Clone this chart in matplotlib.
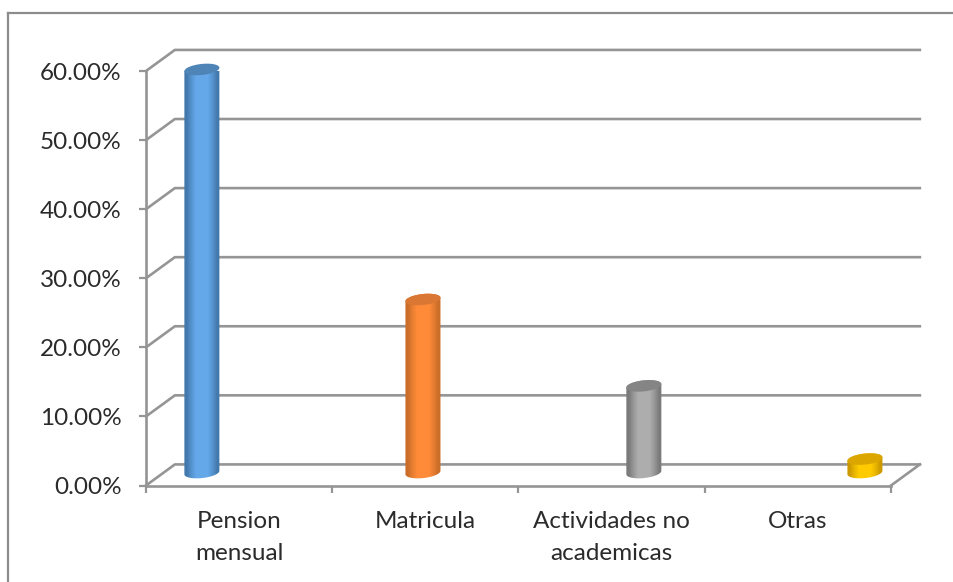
import numpy as np
import matplotlib
matplotlib.use("Agg")
import matplotlib.pyplot as plt
from matplotlib.colors import LinearSegmentedColormap
from matplotlib.lines import Line2D
from matplotlib.patches import Polygon

plt.rcParams['font.family'] = ['Lato', 'DejaVu Sans']

categorias = ['Pension\nmensual', 'Matricula', 'Actividades no\nacademicas', 'Otras']
valores = [58.7, 25.4, 12.9, 2.3]
yticks = [0, 10, 20, 30, 40, 50, 60]

# posiciones de las barras (no coinciden con las etiquetas en el original)
bar_x = [0.30, 1.487, 2.673, 3.86]
lados = ['#4279ac', '#c96d28', '#7a7a7a', '#cc9a00']
centros = ['#64a8ea', '#ff8b38', '#adadad', '#ffcb00']
tapas = ['#4f84b6', '#d97733', '#858585', '#dba600']

GRIS = '#959595'
TEXTO = '#2b2b2b'
W, H = 954, 582
dx_fondo = 0.155   # profundidad 3D en unidades de datos
dy_fondo = 3.05
r_x = 0.094        # radio del cilindro
r_y = 0.80
tilt = 0.25

fig = plt.figure(figsize=(W/100, H/100), dpi=100)
ax = fig.add_axes([146/W, (H-485.5)/H, 745/W, 414.5/H])
ax.set_xlim(0, 4)
ax.set_ylim(0, 60)

# marco exterior
fig.add_artist(Line2D([8/W, 1], [1-13/H, 1-13/H], color='#8c8c8c', lw=1.6))
fig.add_artist(Line2D([8/W, 8/W], [0, 1-13/H], color='#8c8c8c', lw=1.6))

# pared del fondo y suelo
for y in yticks:
    ax.plot([0, dx_fondo, 4+dx_fondo], [y, y+dy_fondo, y+dy_fondo],
            color=GRIS, lw=1.9, clip_on=False, zorder=1)
ax.plot([4, 4+dx_fondo], [0, dy_fondo], color=GRIS, lw=1.9, clip_on=False, zorder=1)


def cilindro(x, v, lado, centro, tapa):
    t = np.linspace(0, 2*np.pi, 80)
    base = dy_fondo/2 + 0.35
    top = v + dy_fondo/2
    s = np.linspace(0, np.pi, 40)
    # contorno: arco inferior de la base y arco superior de la tapa
    xs = np.r_[x - r_x*np.cos(s), x + r_x*np.cos(s)]
    ys = np.r_[base - r_y*np.sin(s) + tilt*(-np.cos(s)), top + r_y*np.sin(s) + tilt*np.cos(s)]
    cuerpo = Polygon(np.c_[xs, ys], closed=True, fc='none', ec='none', zorder=3)
    ax.add_patch(cuerpo)
    cmap = LinearSegmentedColormap.from_list('c', [lado, centro, centro, lado], N=128)
    im = ax.imshow(np.array([[0.0, 0.2, 0.36, 0.5, 0.64, 0.8, 1.0]]), cmap=cmap, aspect='auto',
                   interpolation='bilinear', extent=[x-r_x, x+r_x, base-2, top+2], zorder=3)
    im.set_clip_path(cuerpo)
    cx = x + r_x*np.cos(t)
    cy = top + r_y*np.sin(t) + tilt*np.cos(t)
    ax.add_patch(Polygon(np.c_[cx, cy], closed=True, fc=tapa, ec='none', zorder=4, clip_on=False))


for x, v, a, b, c in zip(bar_x, valores, lados, centros, tapas):
    cilindro(x, v, a, b, c)
ax.set_xlim(0, 4)
ax.set_ylim(0, 60)

for s in ['top', 'right']:
    ax.spines[s].set_visible(False)
for s in ['left', 'bottom']:
    ax.spines[s].set_color(GRIS)
    ax.spines[s].set_linewidth(1.9)
    ax.spines[s].set_zorder(2)

ax.set_yticks(yticks)
ax.set_yticklabels(['%.2f%%' % y for y in yticks], fontsize=17.5, color=TEXTO)
ax.set_xticks([0, 1, 2, 3, 4])
ax.set_xticklabels([])
ax.set_xticks([0.5, 1.5, 2.5, 3.5], minor=True)
ax.set_xticklabels(categorias, minor=True, fontsize=17.5, color=TEXTO, linespacing=1.68, va='top')
ax.tick_params(axis='both', which='major', color=GRIS, width=1.6, length=5)
ax.tick_params(axis='y', which='major', pad=12.5)
ax.tick_params(axis='x', which='minor', length=0, pad=18)

fig.savefig('out.png', dpi=100)
